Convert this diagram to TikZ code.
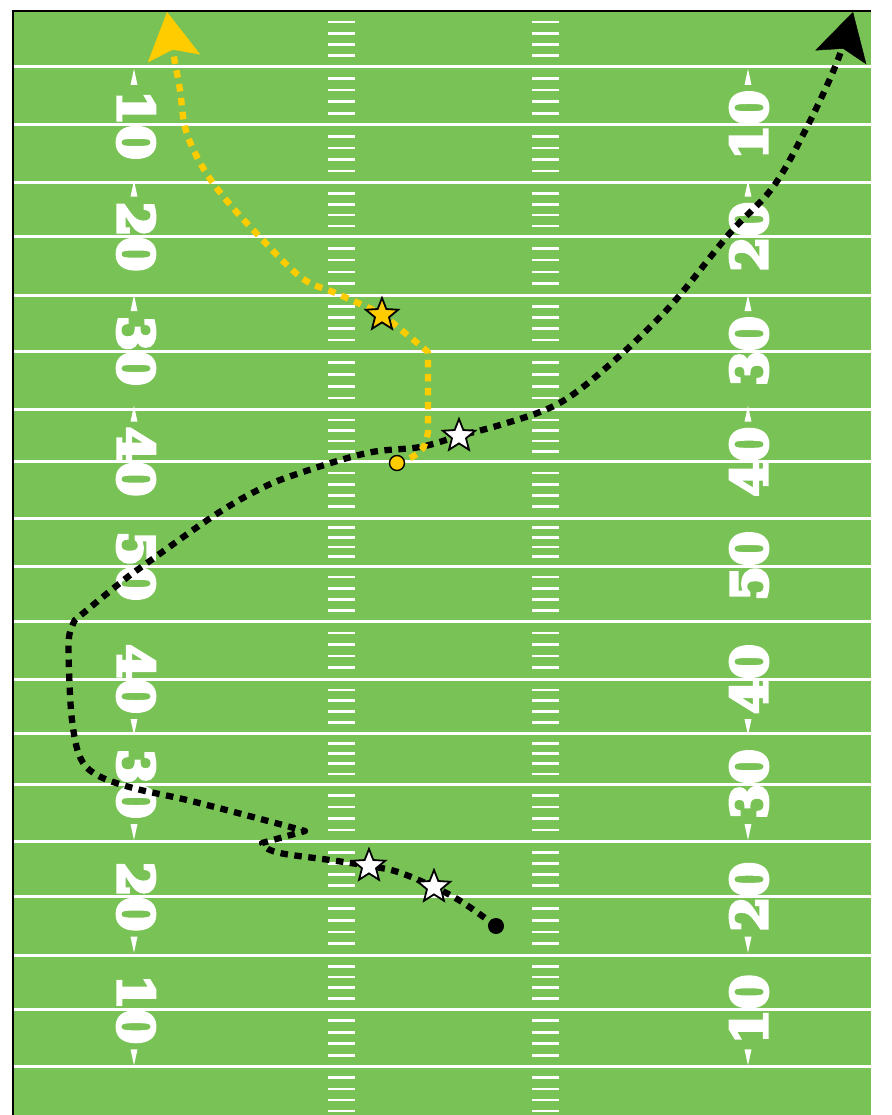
\documentclass[tikz,border=0pt]{standalone}
\usepackage{fontspec}
\newfontfamily\yardfont{DejaVu Serif}[FakeBold=6]
\usetikzlibrary{arrows.meta,shapes.geometric}
\definecolor{turf}{RGB}{121,194,85}
\definecolor{gold}{RGB}{255,204,0}
\pgfdeclarelayer{field}
\pgfdeclarelayer{route}
\pgfsetlayers{field,route,main}
\begin{document}
\begin{tikzpicture}[x=1pt,y=-1pt,
  yardline/.style={white,line width=3pt},
  hashmark/.style={white,line width=2.6pt},
  yardnum/.style={text=white,inner sep=0pt,font=\yardfont\bfseries\fontsize{50}{50}\selectfont},
  runline/.style={line width=6.3pt,dash pattern=on 7.5pt off 6.5pt,line join=round},
  routetip/.style={-{Stealth[length=47pt,width=53pt,inset=9pt,line width=0.4pt]}},
  player/.style={star,star points=5,star point ratio=2.3,minimum size=34pt,inner sep=0pt,draw=black,line width=1.8pt,fill=white},
  spot/.style={circle,minimum size=15pt,inner sep=0pt,draw=black,line width=1.4pt}]
\useasboundingbox (0,0) rectangle (891,1115);
% field
\begin{pgfonlayer}{field}
\fill[turf] (13,11) rectangle (871,1115);
\foreach \y in {66.7,125,182.7,236.7,295.3,351,409.7,461.7,518,566,621.7,679,733,784,841.7,896.7,955.5,1009.3,1066.7}
  \draw[yardline] (13,\y) -- (871,\y);
\foreach \a/\b in {11/66.7,66.7/125,125/182.7,182.7/236.7,236.7/295.3,295.3/351,351/409.7,409.7/461.7,461.7/518,518/566,566/621.7,621.7/679,679/733,733/784,784/841.7,841.7/896.7,896.7/955.5,955.5/1009.3,1009.3/1066.7,1066.7/1122}
  \foreach \k in {1,2,3,4} {
    \pgfmathsetmacro\h{\a+\k*(\b-\a)/5}
    \draw[hashmark] (328,\h) -- (355,\h);
    \draw[hashmark] (532,\h) -- (559,\h);
  }
\foreach \y/\n/\dir [count=\i] in {125/10/-1,236.7/20/-1,351/30/-1,461.7/40/-1,566/50/0,679/40/1,784/30/1,896.7/20/1,1009.3/10/1} {
  \node[yardnum,rotate=-90] (numL\i) at (136,\y) {\n};
  \node[yardnum,rotate=90] (numR\i) at (749,\y) {\n};
  \ifnum\dir=0\else
    \fill[white] (134,{\y+\dir*56}) -- (130.5,{\y+\dir*40}) -- (137.5,{\y+\dir*40}) -- cycle;
    \fill[white] (748,{\y+\dir*56}) -- (744.5,{\y+\dir*40}) -- (751.5,{\y+\dir*40}) -- cycle;
  \fi
}
\draw[line width=1.5pt] (13,1115) -- (13,11) -- (871,11);
\end{pgfonlayer}
% players
\node[circle,fill=black,minimum size=16pt,inner sep=0pt] (ball) at (496,926) {};
\node[player] (run1) at (434,887) {};
\node[player] (run2) at (369,866) {};
\node[player] (run3) at (459,436) {};
\node[player,fill=gold] (pass1) at (382,315) {};
\node[spot,fill=gold] (qb) at (397,463) {};
\coordinate (hookA) at (262,843);
\coordinate (hookB) at (305,831);
\coordinate (cutL) at (75,620);
\coordinate (endB) at (853,12);
\coordinate (turnY) at (428,352);
\coordinate (endY) at (167,12);
% routes
\begin{pgfonlayer}{route}
\draw[runline,routetip] plot[smooth,tension=0.6] coordinates {(ball.center) (462,902) (run1.center) (398,872) (run2.center) (330,860) (285,854) (268,849) (hookA)}
  -- (hookB)
  -- plot[smooth,tension=0.6] coordinates {(hookB) (253,817) (187,800) (133,788) (97,775) (80,757) (72,720) (69,670) (69,637) (cutL)}
  -- plot[smooth,tension=0.6] coordinates {(cutL) (120,583) (147,563) (215,515) (262,488) (300,473) (367,453) (420,447) (run3.center) (500,425) (545,410) (575,393) (615,360) (650,327) (680,295) (730,233) (773,187) (807,127) (837,62) (endB)};
\draw[runline,gold,routetip] plot[smooth,tension=0.6] coordinates {(qb.center) (412,457) (423,448) (428,432)}
  -- (turnY)
  -- plot[smooth,tension=0.6] coordinates {(turnY) (405,333) (pass1.center) (358,303) (333,292) (308,282) (287,265) (257,234) (233,208) (213,183) (197,157) (185,127) (180,90) (174,57) (endY)};
\end{pgfonlayer}
\end{tikzpicture}
\end{document}
